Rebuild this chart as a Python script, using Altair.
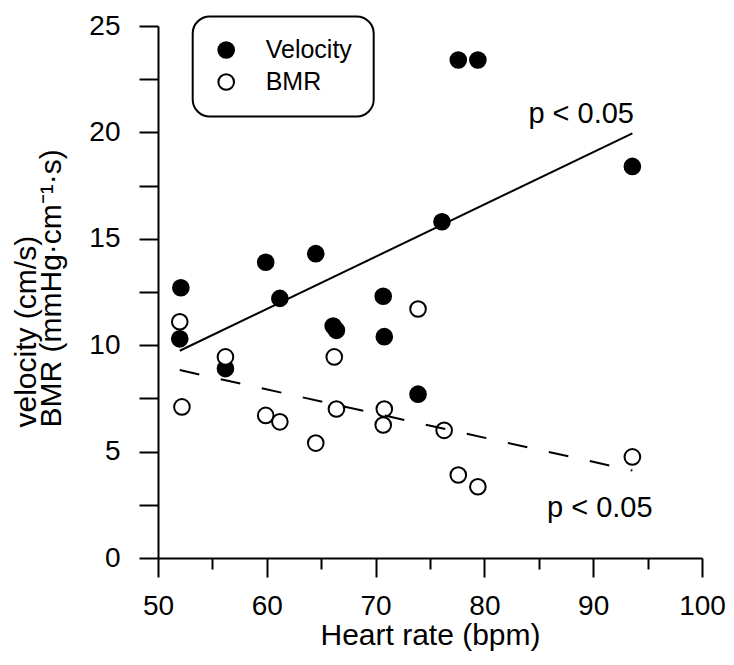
import altair as alt
import pandas as pd

# ---- data ----
vel_hr = [52.1, 52.0, 56.2, 59.9, 61.2, 64.5, 66.1, 66.4, 70.7, 70.8, 73.9, 76.1, 77.6, 79.4, 93.6]
vel_val = [12.7, 10.3, 8.9, 13.9, 12.2, 14.3, 10.9, 10.7, 12.3, 10.4, 7.7, 15.8, 23.4, 23.4, 18.4]
bmr_hr = [52.0, 52.2, 56.2, 59.9, 61.2, 64.5, 66.2, 66.4, 70.8, 70.7, 73.9, 76.3, 77.6, 79.4, 93.6]
bmr_val = [11.1, 7.1, 9.45, 6.7, 6.4, 5.4, 9.45, 7.0, 7.0, 6.25, 11.7, 6.0, 3.9, 3.35, 4.75]

vel_fit_hr = [52.0, 93.6]
vel_fit_val = [9.74, 19.95]
bmr_fit_hr = [52.0, 93.6]
bmr_fit_val = [8.83, 4.11]

series_names = ["Velocity", "BMR"]
x_ticks = [50, 55, 60, 65, 70, 75, 80, 85, 90, 95, 100]
y_ticks = [0, 2.5, 5, 7.5, 10, 12.5, 15, 17.5, 20, 22.5, 25]

ann_text = ["p < 0.05", "p < 0.05"]
ann_hr = [93.75, 85.75]
ann_val = [20.46, 1.93]
ann_align = ["right", "left"]

FONT = "Liberation Sans"

pts = pd.DataFrame({
    "hr": vel_hr + bmr_hr,
    "val": vel_val + bmr_val,
    "series": [series_names[0]] * len(vel_hr) + [series_names[1]] * len(bmr_hr),
})
fit_v = pd.DataFrame({"hr": vel_fit_hr, "val": vel_fit_val})
fit_b = pd.DataFrame({"hr": bmr_fit_hr, "val": bmr_fit_val})
ann = pd.DataFrame({"hr": ann_hr, "val": ann_val, "text": ann_text, "align": ann_align})

x_scale = alt.Scale(domain=[50, 100], nice=False, zero=False)
y_scale = alt.Scale(domain=[0, 25], nice=False)

x_axis = alt.Axis(
    values=x_ticks, format="d",
    labelExpr="datum.value % 10 === 0 ? datum.label : ''",
    tickSize={"condition": {"test": "datum.value % 10 !== 0", "value": 11}, "value": 19},
    tickWidth=2, domainWidth=2, domainColor="black", tickColor="black",
    labelFont=FONT, labelFontSize=28, labelColor="black", labelPadding=15,
    labelFlush=False, labelOverlap=False,
    titleFont=FONT, titleFontSize=30, titleFontWeight="normal", titleColor="black",
    titleBaseline="alphabetic", titleY=86, grid=False,
)
y_axis = alt.Axis(
    values=y_ticks, format="d",
    labelExpr="datum.value % 5 === 0 ? datum.label : ''",
    tickSize=19, tickWidth=2, domainWidth=2, domainColor="black", tickColor="black",
    labelFont=FONT, labelFontSize=28, labelColor="black", labelPadding=19,
    labelFlush=False, labelOverlap=False,
    titleFont=FONT, titleFontSize=30, titleFontWeight="normal", titleColor="black",
    titleAngle=270, titleAlign="left", titleBaseline="alphabetic",
    titleX=-123, titleY=401, titleLineHeight=25, grid=False,
)

legend = alt.Legend(
    title=None, orient="none", legendX=34.7, legendY=-9.5,
    padding=21, strokeColor="black", cornerRadius=17, fillColor="white",
    symbolType="circle", symbolSize=245, symbolStrokeColor="black",
    symbolStrokeWidth=2, labelFont=FONT, labelFontSize=25, labelColor="black",
    labelOffset=27, rowPadding=6,
)

points = alt.Chart(pts).mark_point(
    shape="circle", size=245, stroke="black", strokeWidth=2, opacity=1
).encode(
    x=alt.X("hr:Q", scale=x_scale, axis=x_axis, title="Heart rate (bpm)"),
    y=alt.Y("val:Q", scale=y_scale, axis=y_axis,
            title=["velocity (cm/s)", "BMR (mmHg·cm⁻¹·s)"]),
    fill=alt.Fill("series:N", scale=alt.Scale(domain=series_names, range=["black", "white"]),
                  legend=legend),
)

line_v = alt.Chart(fit_v).mark_line(color="black", strokeWidth=2).encode(
    x=alt.X("hr:Q", scale=x_scale), y=alt.Y("val:Q", scale=y_scale)
)
line_b = alt.Chart(fit_b).mark_line(color="black", strokeWidth=2, strokeDash=[20, 22]).encode(
    x=alt.X("hr:Q", scale=x_scale), y=alt.Y("val:Q", scale=y_scale)
)

text_r = alt.Chart(ann[ann["align"] == "right"]).mark_text(
    font=FONT, fontSize=29, align="right", baseline="alphabetic", color="black"
).encode(x=alt.X("hr:Q", scale=x_scale), y=alt.Y("val:Q", scale=y_scale), text="text:N")
text_l = alt.Chart(ann[ann["align"] == "left"]).mark_text(
    font=FONT, fontSize=29, align="left", baseline="alphabetic", color="black"
).encode(x=alt.X("hr:Q", scale=x_scale), y=alt.Y("val:Q", scale=y_scale), text="text:N")

chart = alt.layer(points, line_v, line_b, text_r, text_l).properties(
    width=544, height=532,
    autosize=alt.AutoSizeParams(type="none"),
    padding={"left": 150, "top": 18, "right": 24, "bottom": 93},
).configure_view(stroke=None).configure_legend(strokeWidth=2)

chart.save("out.html", embed_options={"renderer": "svg", "actions": False})
